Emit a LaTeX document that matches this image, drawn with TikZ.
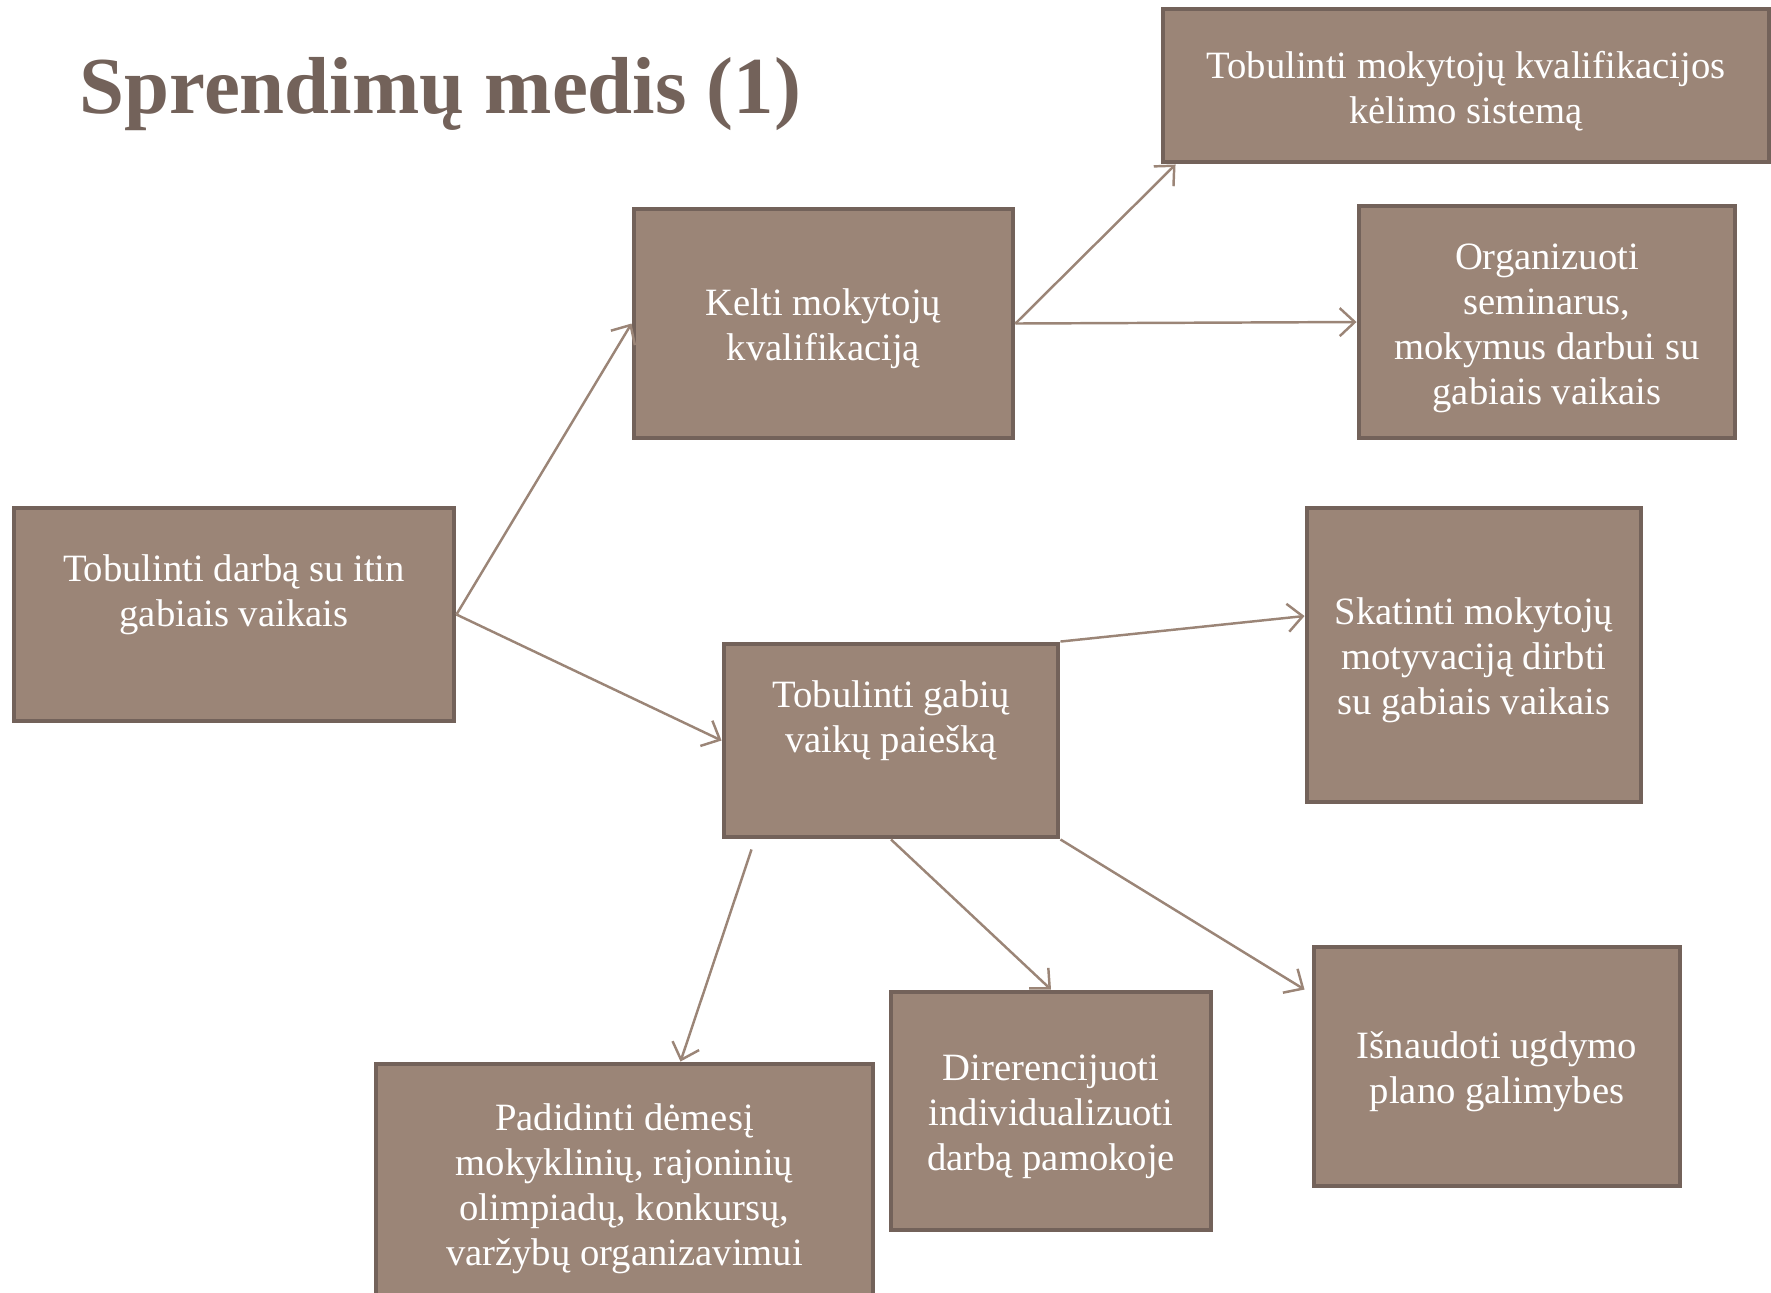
\documentclass[tikz,border=0pt]{standalone}
\usepackage{fontspec}
\setmainfont{Liberation Serif}
\usepackage{tikz}
\usetikzlibrary{arrows.meta}

\definecolor{medisfill}{HTML}{9B8577}
\definecolor{medisline}{HTML}{73625A}

\begin{document}
\begin{tikzpicture}[
      goal/.style n args={2}{draw=medisline, line width=1.4pt, fill=medisfill, text=white,
        align=flush center, inner sep=2pt, font=\fontsize{11}{12.8}\selectfont,
        minimum width=#1, text width=#1-6pt, minimum height=#2,
        execute at begin node=\rule{0pt}{10.8pt}},
      link/.style={draw=medisfill, line width=0.7pt},
      >={Straight Barb[length=1.5mm, width=2.8mm]}
    ]
    \useasboundingbox (0,0) rectangle (17.71,-12.92);

    % Antraste
    \node[anchor=base west, inner sep=0pt, text=medisline, font=\fontsize{23}{27}\selectfont\bfseries]
      (title) at (0.79,-1.13) {Sprendimų medis (1)};

    % Sprendimu medzio mazgai
    \node[goal={4.40cm}{2.13cm}] (root) at (2.34,-6.145)
      {Tobulinti darbą su itin\\gabiais vaikais\\\strut};
    \node[goal={3.79cm}{2.29cm}] (kelti) at (8.235,-3.235)
      {Kelti mokytojų\\kvalifikaciją};
    \node[goal={3.34cm}{1.93cm}] (gabiu) at (8.91,-7.405)
      {Tobulinti gabių\\vaikų paiešką\\\strut};
    \node[goal={6.06cm}{1.53cm}] (sistema) at (14.66,-0.855)
      {Tobulinti mokytojų kvalifikacijos\\kėlimo sistemą};
    \node[goal={3.76cm}{2.32cm}] (seminarai) at (15.47,-3.22)
      {Organizuoti\\seminarus,\\mokymus darbui su\\gabiais vaikais};
    \node[goal={3.34cm}{2.94cm}] (skatinti) at (14.74,-6.55)
      {Skatinti mokytojų\\motyvaciją dirbti\\su gabiais vaikais};
    \node[goal={3.66cm}{2.39cm}] (planas) at (14.97,-10.665)
      {Išnaudoti ugdymo\\plano galimybes};
    \node[goal={3.20cm}{2.38cm}] (pamoka) at (10.51,-11.11)
      {Direrencijuoti\\individualizuoti\\darbą pamokoje};
    \node[goal={4.97cm}{2.38cm}] (olimp) at (6.245,-11.83)
      {Padidinti dėmesį\\mokyklinių, rajoninių\\olimpiadų, konkursų,\\varžybų organizavimui};

    % Rodykles
    \draw[link, ->] (root.east) -- (kelti.west);
    \draw[link, ->] (root.east) -- (gabiu.west);
    \draw[link, ->] (kelti.east) -- ([xshift=1.5mm]sistema.south west);
    \draw[link, ->] (kelti.east) -- (seminarai.west);
    \draw[link, ->] (gabiu.north east) -- ([yshift=3.9mm]skatinti.west);
    \draw[link, ->] ([xshift=3mm, yshift=-1mm]gabiu.south west) -- ([xshift=5.6mm]olimp.north);
    \draw[link, ->] (gabiu.south) -- (pamoka.north);
    \draw[link, ->] (gabiu.south east) -- ([xshift=-0.7mm, yshift=-4.5mm]planas.north west);
  \end{tikzpicture}
\end{document}
